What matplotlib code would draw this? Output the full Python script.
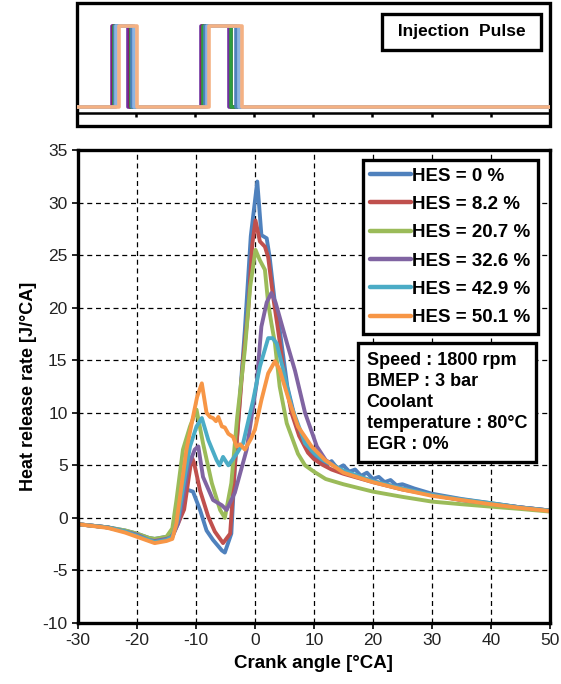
import matplotlib
matplotlib.use("Agg")
import matplotlib.pyplot as plt
from matplotlib.patches import Rectangle

plt.rcParams['font.family'] = ['Liberation Sans', 'DejaVu Sans']
plt.rcParams['axes.unicode_minus'] = False

labels = ["HES = 0 %", "HES = 8.2 %", "HES = 20.7 %", "HES = 32.6 %", "HES = 42.9 %", "HES = 50.1 %"]
colors = ["#4F81BD", "#C0504D", "#9BBB59", "#8064A2", "#4BACC6", "#F79646"]

pre_x = [-30, -25, -22, -20, -18, -17, -16, -15, -14]

hes0_x = pre_x + [-13, -12.2, -11.6, -10.5, -9.3, -8.2, -7.1, -5.6, -5.1, -4.0, -3.4, -1.7, -0.7, 0.4, 1.1, 2.0, 2.5, 3.4, 4.2, 5.5, 7, 8.5, 10,
                  11, 12, 13, 14, 15, 16, 17, 18, 19, 20, 21, 22, 23, 24, 25, 27, 30, 35, 40, 45, 50]
hes0_y = [-0.6, -0.9, -1.2, -1.5, -1.9, -2.0, -1.9, -1.8, -1.6] + \
         [-0.2, 2.6, 2.7, 2.5, 0.75, -1.2, -2.1, -3.1, -3.3, -1.5, 4.9, 17.9, 26.8, 32.0, 26.9, 26.6, 24.8, 20.4, 17.9, 12.5, 9.0, 7.0, 5.8,
          5.6, 5.0, 5.4, 4.7, 5.0, 4.4, 4.6, 4.0, 4.3, 3.7, 3.9, 3.4, 3.6, 3.1, 3.2, 2.8, 2.3, 1.8, 1.4, 1.0, 0.7]

hes8_x = pre_x + [-13, -12, -11.3, -10.7, -10.3, -9.3, -7.9, -6.8, -5.4, -4.2, -3.4, -2.0, -1.1, -0.45, 0.1, 0.85, 1.7, 2.25, 3.1, 3.9, 5.0, 6.2, 7.5, 9, 10, 11.3, 13, 15, 20, 25, 30, 35, 40, 45, 50]
hes8_y = [-0.6, -0.9, -1.3, -1.6, -2.1, -2.2, -2.1, -2.0, -1.7] + \
         [-0.5, 0.8, 3.5, 5.8, 5.2, 2.6, 0.1, -1.3, -2.4, -1.5, 4.9, 15.0, 20.0, 26.0, 28.3, 26.3, 25.8, 24.8, 21.0, 18.0, 13.5, 10.0, 7.8, 6.2, 5.6, 5.1, 4.6, 4.2, 3.4, 2.7, 2.2, 1.7, 1.35, 1.0, 0.7]

hes20_x = pre_x + [-13.3, -12.2, -11, -9.9, -8.8, -7.3, -5.9, -5.1, -4.0, -3.0, -1.7, -0.8, 0.1, 0.85, 1.7, 2.25, 2.8, 3.4, 4.2, 5.4, 7.3, 8.5, 10, 12, 15, 20, 25, 30, 35, 40, 45, 50]
hes20_y = [-0.6, -0.9, -1.2, -1.5, -1.9, -2.0, -1.9, -1.8, -1.0] + \
          [1.7, 6.5, 8.7, 10.3, 7.1, 3.3, 0.75, 0.0, 3.3, 9.6, 16.0, 22.0, 25.5, 24.5, 23.6, 20.4, 18.5, 16.6, 12.5, 9.0, 6.1, 5.0, 4.4, 3.7, 3.2, 2.5, 2.0, 1.55, 1.3, 1.07, 0.85, 0.6]

hes32_x = pre_x + [-13, -12, -11.3, -10.2, -9.6, -8.8, -7.1, -5.6, -4.8, -3.4, -1.4, 0.3, 1.1, 2.0, 2.8, 3.5, 4.2, 5.5, 6.8, 8.5, 10.5, 12, 15, 20, 25, 30, 35, 40, 45, 50]
hes32_y = [-0.6, -0.9, -1.3, -1.6, -2.1, -2.2, -2.1, -2.0, -1.8] + \
          [-0.5, 2.5, 4.9, 6.5, 6.8, 3.9, 1.7, 1.2, 0.75, 2.4, 6.5, 12.8, 18.2, 20.5, 21.4, 20.5, 19.1, 16.5, 14.0, 10.0, 6.8, 5.5, 4.4, 3.5, 2.8, 2.2, 1.7, 1.35, 1.0, 0.7]

hes42_x = pre_x + [-13, -12, -11, -9.9, -9.0, -7.9, -6.5, -6.0, -5.4, -4.5, -3.1, -2.0, -0.3, 0.85, 2.25, 3.0, 3.7, 4.8, 6.2, 8.5, 10, 11.3, 15, 20, 25, 30, 35, 40, 45, 50]
hes42_y = [-0.6, -0.9, -1.3, -1.7, -2.1, -2.3, -2.2, -2.1, -1.8] + \
          [0.0, 3.5, 6.8, 8.7, 9.5, 7.4, 5.5, 5.0, 5.8, 5.0, 6.1, 7.1, 11.2, 14.4, 17.1, 17.1, 16.6, 14.1, 10.6, 7.1, 6.2, 5.6, 4.5, 3.5, 2.8, 2.2, 1.75, 1.4, 1.0, 0.7]

hes50_x = pre_x + [-13.3, -12.7, -11.6, -10.5, -9.8, -9.0, -8.2, -7.6, -7.1, -6.6, -6.2, -5.6, -5.1, -4.5, -3.7, -3.1, -2.5, -1.7, -0.6, 0, 1.1, 2.25, 3.4, 4.2, 5.6, 7.3, 9.6, 11.9, 15, 20, 25, 30, 35, 40, 45, 50]
hes50_y = [-0.6, -0.95, -1.4, -1.8, -2.2, -2.4, -2.3, -2.2, -2.0] + \
          [-0.5, 2.0, 6.5, 9.6, 11.5, 12.8, 10.0, 9.6, 9.5, 9.2, 9.6, 8.7, 8.6, 8.0, 7.7, 6.8, 7.0, 6.5, 7.6, 8.4, 11.2, 13.75, 14.9, 14.1, 11.5, 8.7, 6.8, 5.5, 4.3, 3.4, 2.7, 2.1, 1.7, 1.3, 0.95, 0.65]

series_x = [hes0_x, hes8_x, hes20_x, hes32_x, hes42_x, hes50_x]
series_y = [hes0_y, hes8_y, hes20_y, hes32_y, hes42_y, hes50_y]

# injection pulses (start, end) in crank angle
pulse1_start = [-24.1, -23.9, -23.7, -23.5, -23.3, -22.9]
pulse1_end = [-21.3, -21.0, -20.8, -20.6, -20.3, -19.8]
pulse2_start = [-9.0, -8.8, -8.6, -8.3, -8.0, -7.6]
pulse2_end = [-4.3, -4.0, -3.9, -3.0, -2.6, -2.0]
pulse_colors = ["#7030A0", "#8B1A6B", "#2E9E3E", "#4F81BD", "#8DB4E2", "#F4B183"]

xticks = list(range(-30, 51, 10))
yticks = list(range(-10, 36, 5))

fig = plt.figure(figsize=(5.61, 6.84), dpi=100)

# ---- top panel: injection pulse ----
axt = fig.add_axes([0.137, 0.8158, 0.843, 0.180])
for i in range(6):
    px = [-30, pulse1_start[i], pulse1_start[i], pulse1_end[i], pulse1_end[i],
          pulse2_start[i], pulse2_start[i], pulse2_end[i], pulse2_end[i], 50]
    py = [0, 0, 1, 1, 0, 0, 1, 1, 0, 0]
    axt.plot(px, py, color=pulse_colors[i], lw=2.6, solid_joinstyle='round')
axt.set_xlim(-30, 50)
axt.set_ylim(-0.235, 1.284)
for s in ['top', 'left', 'right']:
    axt.spines[s].set_visible(False)
axt.spines['bottom'].set_position(('data', -0.074))
axt.spines['bottom'].set_linewidth(1.8)
axt.set_xticks(xticks)
axt.tick_params(axis='x', direction='out', length=3, width=1.8, labelbottom=False)
axt.set_yticks([])
axt.add_patch(Rectangle((0, 0), 1, 1, transform=axt.transAxes, fill=False,
                        lw=2.4, edgecolor='black', clip_on=False))
axt.text(0.814, 0.764, " Injection  Pulse ", transform=axt.transAxes, ha='center', va='center',
         fontsize=12.5, fontweight='bold',
         bbox=dict(boxstyle='square,pad=0.62', facecolor='white', edgecolor='black', lw=2.4))

# ---- main panel ----
ax = fig.add_axes([0.139, 0.0892, 0.841, 0.6915])
for i in range(6):
    ax.plot(series_x[i], series_y[i], color=colors[i], lw=2.8, label=labels[i],
            solid_joinstyle='round', solid_capstyle='round')
ax.set_xlim(-30, 50)
ax.set_ylim(-10, 35)
ax.set_xticks(xticks)
ax.set_yticks(yticks)
ax.grid(True, color='black', linestyle=(0, (4, 3)), lw=0.9)
ax.tick_params(axis='both', labelsize=12.5, direction='out', length=4, width=1.2, colors='black')
ax.tick_params(axis='both', labelcolor='#222222')
for s in ax.spines.values():
    s.set_linewidth(2.4)
ax.set_xlabel("Crank angle [°CA]", fontsize=13.5, fontweight='bold', labelpad=5)
ax.set_ylabel("Heat release rate [J/°CA]", fontsize=13, fontweight='bold', labelpad=4)

leg = ax.legend(loc='upper right', bbox_to_anchor=(0.975, 0.979),
                prop={'weight': 'bold', 'size': 13.5}, handlelength=2.2, handletextpad=0.05,
                labelspacing=0.6, borderpad=0.4, borderaxespad=0, fancybox=False, framealpha=1,
                edgecolor='black')
leg.get_frame().set_linewidth(2.4)
for h in leg.get_lines():
    h.set_linewidth(3.2)

info = "Speed : 1800 rpm\nBMEP : 3 bar\nCoolant\ntemperature : 80°C\nEGR : 0%"
ax.text(0.612, 0.572, info, transform=ax.transAxes, ha='left', va='top', fontsize=13,
        fontweight='bold', linespacing=1.3,
        bbox=dict(boxstyle='square,pad=0.5', facecolor='white', edgecolor='black', lw=2.4))

fig.savefig("out.png", dpi=100)
